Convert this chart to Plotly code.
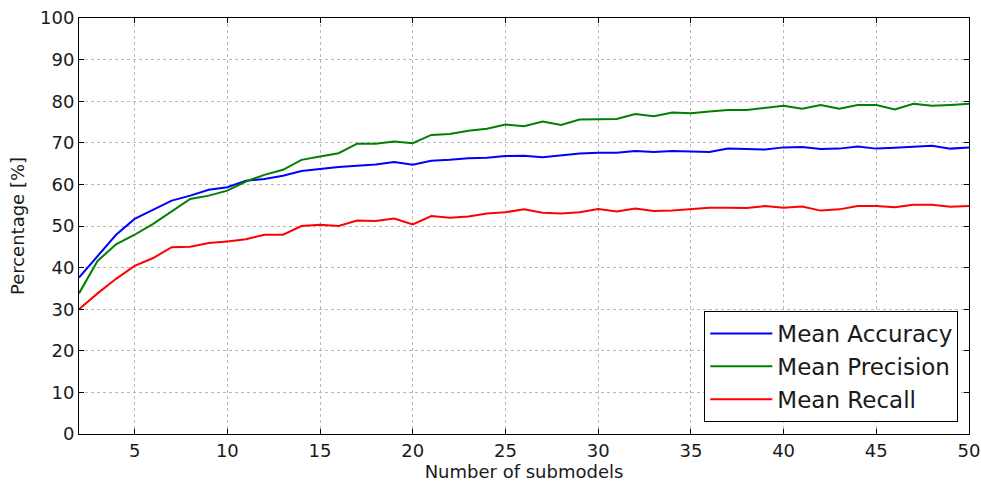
import plotly.graph_objects as go

# Number of submodels in the ensemble
submodels = list(range(2, 51))

mean_accuracy = [
    37.6, 42.7, 47.9, 51.7, 54.0, 56.1, 57.3, 58.7, 59.3, 60.9,
    61.3, 62.1, 63.2, 63.7, 64.2, 64.5, 64.8, 65.4, 64.7, 65.7,
    65.9, 66.3, 66.4, 66.8, 66.9, 66.5, 66.9, 67.4, 67.6, 67.6,
    68.0, 67.8, 68.0, 67.9, 67.8, 68.6, 68.5, 68.4, 68.9, 69.0,
    68.5, 68.6, 69.1, 68.6, 68.8, 69.0, 69.3, 68.6, 68.9,
]
mean_precision = [
    33.8, 41.6, 45.6, 47.9, 50.5, 53.6, 56.5, 57.3, 58.5, 60.7,
    62.3, 63.5, 65.9, 66.7, 67.5, 69.8, 69.8, 70.3, 69.9, 71.9,
    72.1, 72.9, 73.4, 74.4, 74.0, 75.1, 74.3, 75.6, 75.6, 75.7,
    76.9, 76.4, 77.3, 77.1, 77.5, 77.9, 77.9, 78.4, 78.9, 78.2,
    79.1, 78.2, 79.1, 79.1, 78.0, 79.4, 78.9, 79.1, 79.4,
]
mean_recall = [
    30.0, 33.8, 37.3, 40.4, 42.3, 44.9, 45.0, 45.9, 46.3, 46.8,
    47.9, 47.9, 50.0, 50.3, 50.0, 51.3, 51.2, 51.8, 50.4, 52.4,
    52.0, 52.3, 53.0, 53.3, 54.0, 53.2, 53.0, 53.3, 54.1, 53.5,
    54.2, 53.6, 53.7, 54.1, 54.4, 54.4, 54.3, 54.8, 54.4, 54.7,
    53.7, 54.0, 54.8, 54.8, 54.5, 55.1, 55.1, 54.6, 54.8,
]

series = [
    ("Mean Accuracy", mean_accuracy, "#0000ff"),
    ("Mean Precision", mean_precision, "#008000"),
    ("Mean Recall", mean_recall, "#ff0000"),
]

fig = go.Figure()
for name, values, color in series:
    fig.add_trace(go.Scatter(
        x=submodels, y=values, mode="lines", name=name,
        line=dict(color=color, width=2),
    ))

font_family = "DejaVu Sans, sans-serif"
axis_common = dict(
    showline=True, linecolor="black", linewidth=1, mirror="ticks",
    ticks="inside", ticklen=5, tickcolor="black",
    showgrid=True, gridcolor="#b8b8b8", griddash="dot", gridwidth=1,
    zeroline=False, automargin=False,
    tickfont=dict(family=font_family, size=18, color="#1a1a1a"),
    title_font=dict(family=font_family, size=18, color="#1a1a1a"),
)

fig.update_xaxes(
    range=[2, 50], tickmode="array", tickvals=list(range(5, 51, 5)),
    title_text="Number of submodels", title_standoff=8, **axis_common,
)
fig.update_yaxes(
    range=[0, 100], dtick=10, title_text="Percentage [%]",
    title_standoff=10, **axis_common,
)

fig.update_layout(
    width=981, height=482,
    margin=dict(l=79, r=12, t=18, b=48),
    paper_bgcolor="white", plot_bgcolor="white",
    font=dict(family=font_family, color="#1a1a1a"),
    legend=dict(
        x=0.988, y=0.029, xanchor="right", yanchor="bottom",
        bgcolor="white", bordercolor="black", borderwidth=1,
        font=dict(family=font_family, size=23, color="#1a1a1a"),
        itemwidth=62, tracegroupgap=0,
    ),
    showlegend=True,
)

fig.write_html("out.html")
